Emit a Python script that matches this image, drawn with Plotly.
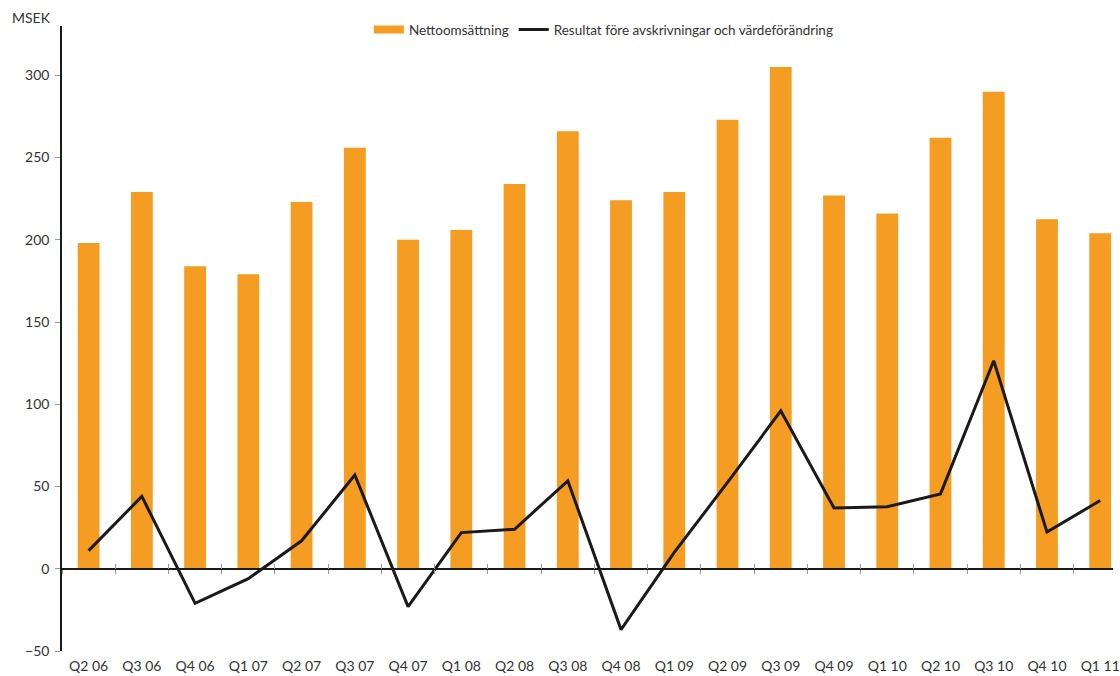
import plotly.graph_objects as go

quarters = ["Q2 06", "Q3 06", "Q4 06", "Q1 07", "Q2 07", "Q3 07", "Q4 07", "Q1 08",
            "Q2 08", "Q3 08", "Q4 08", "Q1 09", "Q2 09", "Q3 09", "Q4 09", "Q1 10",
            "Q2 10", "Q3 10", "Q4 10", "Q1 11"]
nettoomsattning = [198, 229, 184, 179, 223, 256, 200, 206, 234, 266,
                   224, 229, 273, 305, 227, 216, 262, 290, 212.5, 204]
resultat = [11, 44, -21, -6, 17, 57, -23, 22, 24, 53.5,
            -37, 10, 52.5, 96, 37, 37.7, 45.5, 126.5, 22.3, 41.5]
y_ticks = [-50, 0, 50, 100, 150, 200, 250, 300]

ORANGE = "#F59D22"
LINE = "#1a1a1a"
FONT = "Lato"
TXT = "#333333"

fig = go.Figure()
fig.add_trace(go.Bar(x=quarters, y=nettoomsattning, marker=dict(color=ORANGE, line=dict(width=0)),
                     width=0.41, showlegend=False, name="Nettoomsättning"))
fig.add_trace(go.Scatter(x=quarters, y=resultat, mode="lines", line=dict(color=LINE, width=3),
                         name="Resultat före avskrivningar och värdeförändring", showlegend=False))
# legend entries
fig.add_trace(go.Scatter(x=[None], y=[None], mode="lines", line=dict(color=ORANGE, width=8),
                         name="Nettoomsättning"))
fig.add_trace(go.Scatter(x=[None], y=[None], mode="lines", line=dict(color=LINE, width=3),
                         name="Resultat före avskrivningar och värdeförändring"))
# axes on the zero line carrying the category-boundary ticks
fig.add_trace(go.Scatter(x=quarters, y=resultat, xaxis="x2", mode="none", showlegend=False, hoverinfo="skip"))
fig.add_trace(go.Scatter(x=quarters, y=resultat, xaxis="x3", mode="none", showlegend=False, hoverinfo="skip"))

yr = [-50, 330]
zero_pos = (0 - yr[0]) / (yr[1] - yr[0])
xr = [-0.5, 19.24]

fig.update_layout(
    width=1120, height=676,
    margin=dict(l=62, r=0, t=26, b=25),
    plot_bgcolor="white", paper_bgcolor="white",
    font=dict(family=FONT, size=14, color=TXT),
    xaxis=dict(range=xr, showline=False, ticks="", showgrid=False, zeroline=False,
               tickfont=dict(size=14, color=TXT), ticklabelstandoff=5),
    xaxis2=dict(range=xr, overlaying="x", anchor="free", position=zero_pos, showline=True,
                linecolor=LINE, linewidth=2, ticks="outside", ticklen=4, tickcolor="#999999",
                tickson="boundaries", showticklabels=False, showgrid=False, zeroline=False,
                type="category", categoryorder="array", categoryarray=quarters),
    xaxis3=dict(range=xr, overlaying="x", anchor="free", position=zero_pos, showline=False,
                ticks="inside", ticklen=5, tickcolor="#999999",
                tickson="boundaries", showticklabels=False, showgrid=False, zeroline=False,
                type="category", categoryorder="array", categoryarray=quarters),
    yaxis=dict(range=yr, tickvals=y_ticks, showline=True, linecolor=LINE, linewidth=1.5,
               ticks="outside", ticklen=5, tickcolor="#999999", showgrid=False, zeroline=False,
               tickfont=dict(size=14, color=TXT), ticklabelstandoff=3),
    legend=dict(orientation="h", x=0.292, xanchor="left", y=0.994, yanchor="middle",
                font=dict(size=13.5, color=TXT), bgcolor="rgba(0,0,0,0)",
                tracegroupgap=0),
    annotations=[dict(text="MSEK", x=0, xref="paper", xanchor="right", xshift=-9,
                      y=1, yref="paper", yanchor="bottom", yshift=-2, showarrow=False,
                      font=dict(size=14, color=TXT))],
)
fig.write_html("out.html", config={"displayModeBar": False},
               post_script="document.body.style.margin='0';document.body.style.overflow='hidden';")
